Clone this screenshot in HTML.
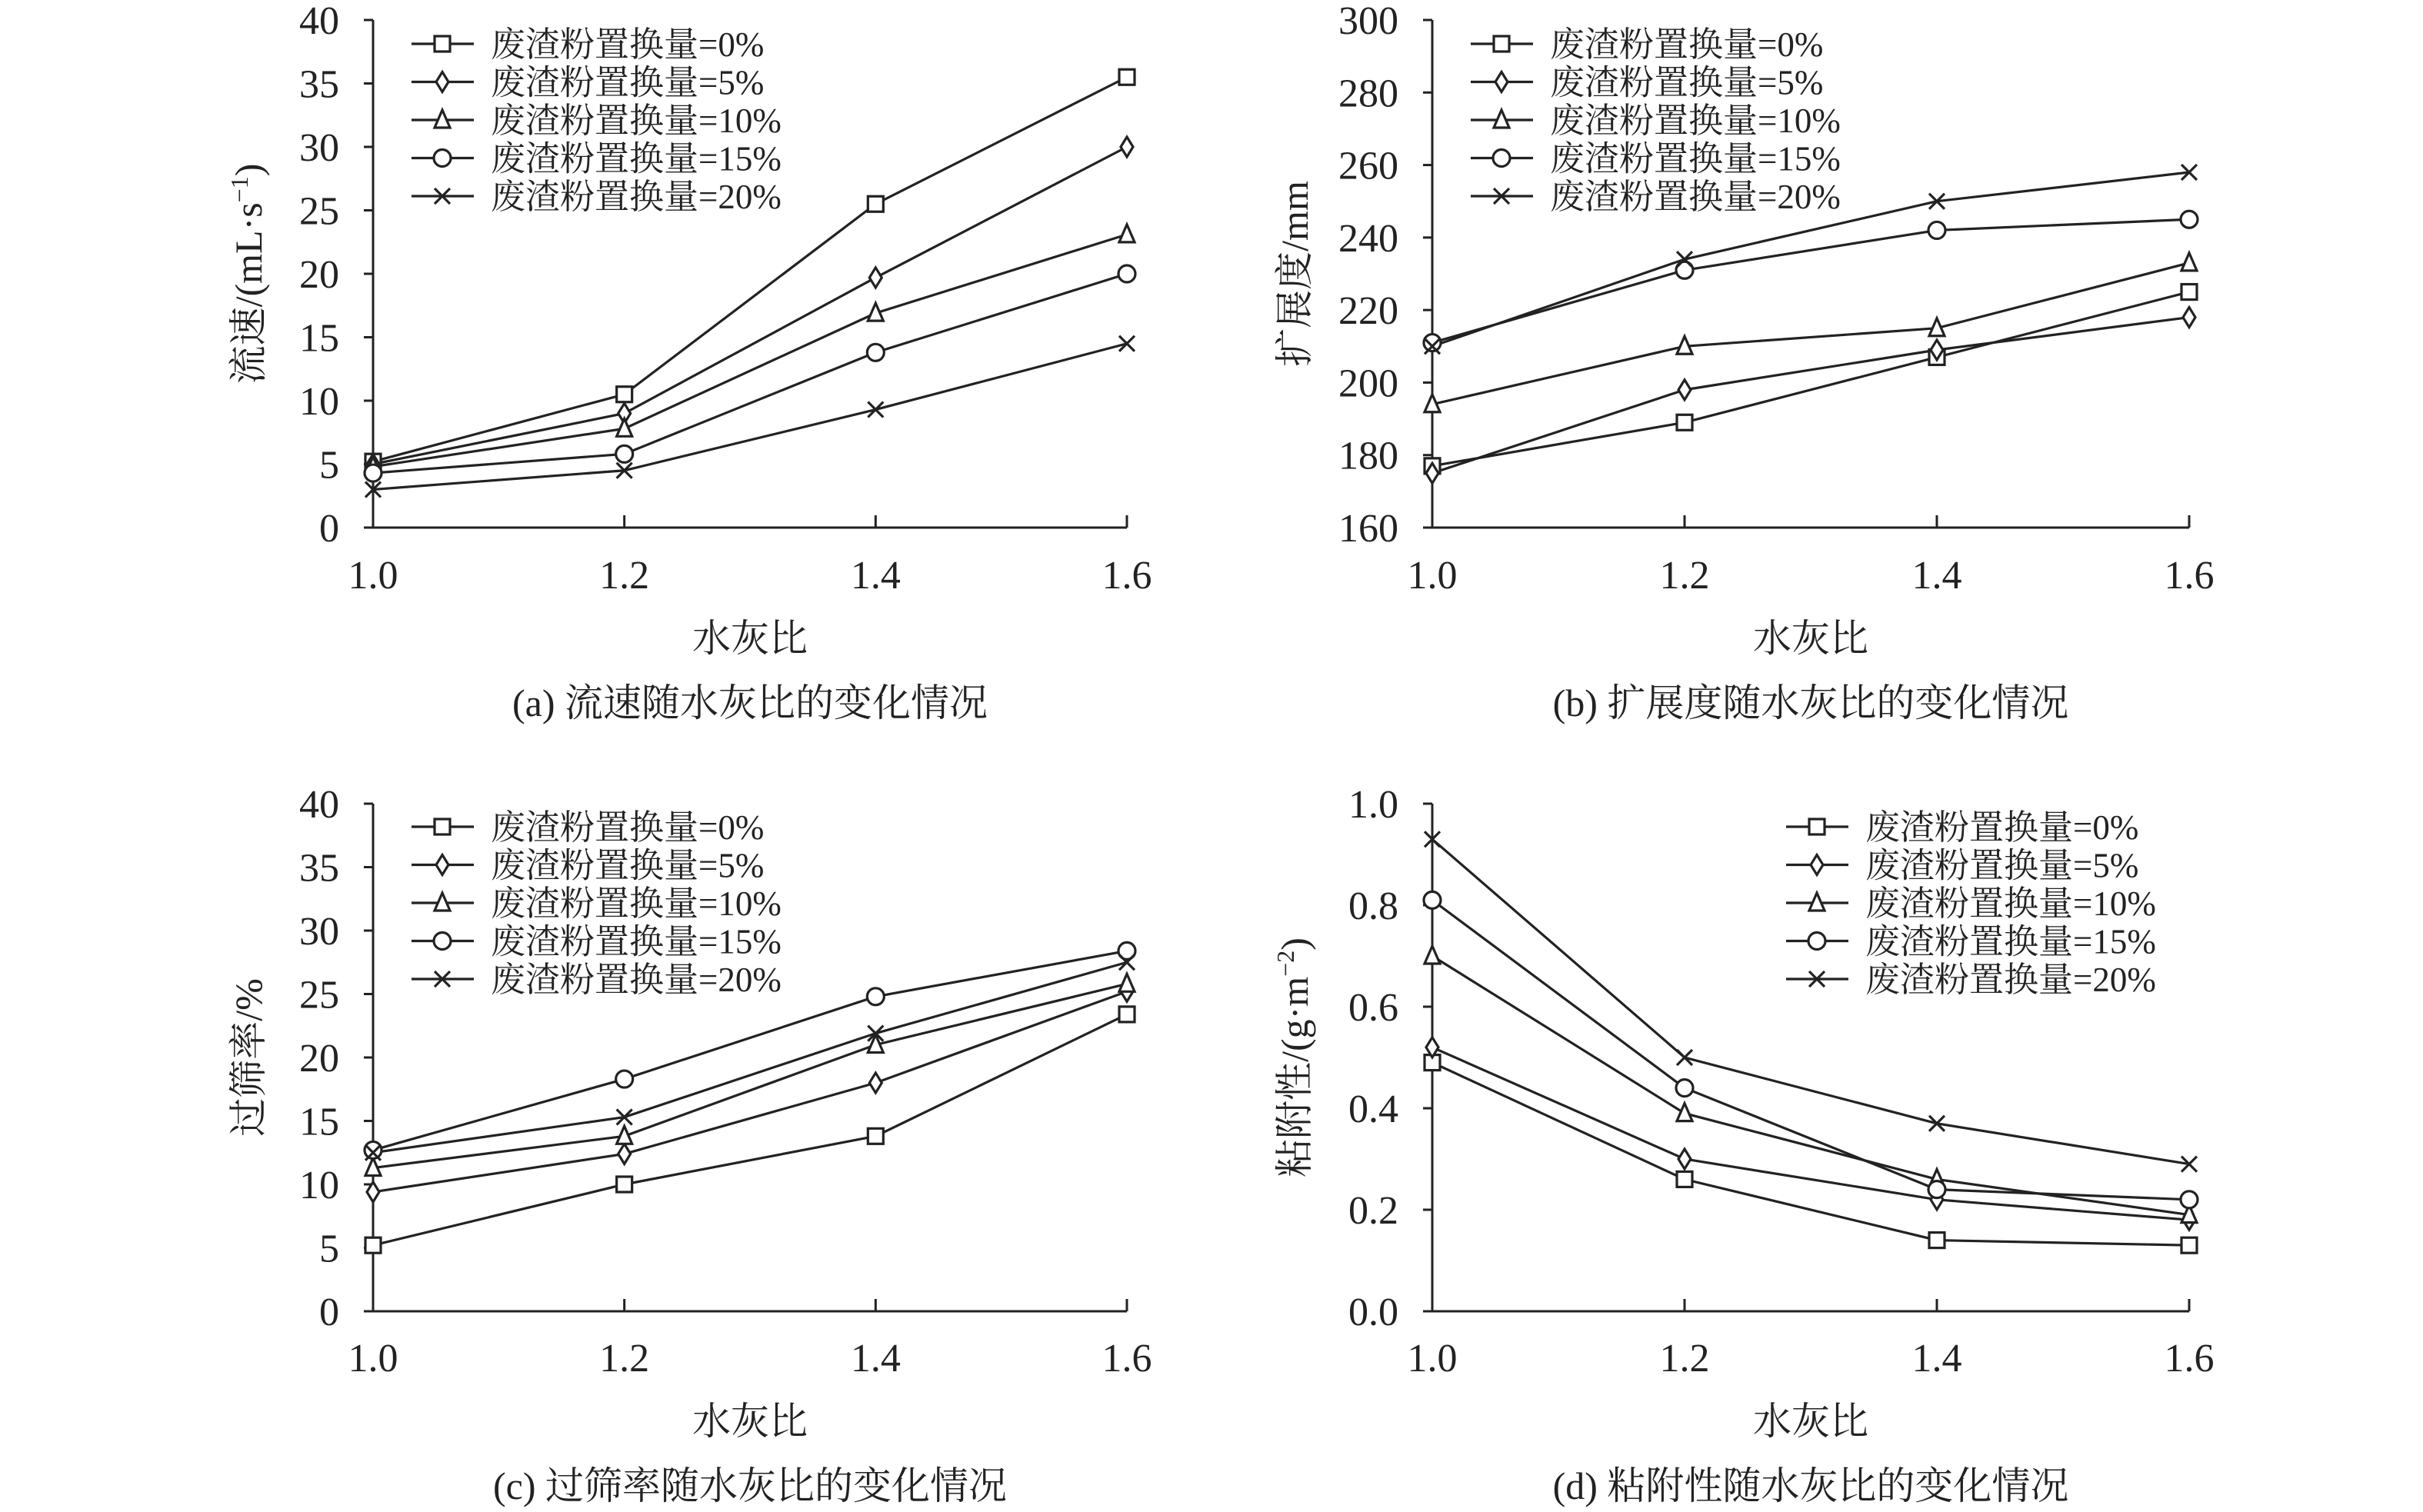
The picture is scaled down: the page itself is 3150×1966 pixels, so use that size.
<!DOCTYPE html>
<html><head><meta charset="utf-8"><style>
html,body{margin:0;padding:0;background:#fff;}
svg{display:block;font-family:"Liberation Serif","Noto Serif CJK SC",serif;}
</style></head><body>
<svg id="fig" width="3150" height="1966" viewBox="0 0 3150 1966" xmlns="http://www.w3.org/2000/svg"></svg>
<script>
const xCats = [1.0, 1.2, 1.4, 1.6];
const xTickLabels = ["1.0", "1.2", "1.4", "1.6"];
const seriesNames = ["废渣粉置换量=0%","废渣粉置换量=5%","废渣粉置换量=10%","废渣粉置换量=15%","废渣粉置换量=20%"];
const markers = ["square","diamond","triangle","circle","cross"];
// (a) flow rate
const aS0 = [5.2, 10.5, 25.5, 35.5];
const aS5 = [5.0, 9.0, 19.7, 30.0];
const aS10 = [4.8, 7.8, 16.9, 23.1];
const aS15 = [4.3, 5.8, 13.8, 20.0];
const aS20 = [3.0, 4.5, 9.3, 14.5];
const aTicks = [0,5,10,15,20,25,30,35,40];
// (b) spread
const bS0 = [177, 189, 207, 225];
const bS5 = [175, 198, 209, 218];
const bS10 = [194, 210, 215, 233];
const bS15 = [211, 231, 242, 245];
const bS20 = [210, 234, 250, 258];
const bTicks = [160,180,200,220,240,260,280,300];
// (c) sieve rate
const cS0 = [5.2, 10.0, 13.8, 23.4];
const cS5 = [9.4, 12.4, 18.0, 25.2];
const cS10 = [11.3, 13.8, 21.0, 25.8];
const cS15 = [12.7, 18.3, 24.8, 28.4];
const cS20 = [12.5, 15.3, 21.9, 27.5];
const cTicks = [0,5,10,15,20,25,30,35,40];
// (d) adhesion
const dS0 = [0.49, 0.26, 0.14, 0.13];
const dS5 = [0.52, 0.30, 0.22, 0.18];
const dS10 = [0.70, 0.39, 0.26, 0.19];
const dS15 = [0.81, 0.44, 0.24, 0.22];
const dS20 = [0.93, 0.50, 0.37, 0.29];
const dTicks = [0.0,0.2,0.4,0.6,0.8,1.0];

const NS="http://www.w3.org/2000/svg";
const svg=document.getElementById('fig');
function mk(tag,attrs,parent){const e=document.createElementNS(NS,tag);for(const k in attrs)e.setAttribute(k,attrs[k]);(parent||svg).appendChild(e);return e;}
const SW=3.2;

function marker(g,type,x,y){
  const r=10;
  let e;
  if(type==="square") e=mk('rect',{x:x-r,y:y-r,width:2*r,height:2*r,fill:'#fff',stroke:'#222','stroke-width':SW},g);
  else if(type==="diamond") e=mk('polygon',{points:`${x},${y-r-3} ${x+r-2},${y} ${x},${y+r+3} ${x-r+2},${y}`,fill:'#fff',stroke:'#222','stroke-width':SW},g);
  else if(type==="triangle") e=mk('polygon',{points:`${x},${y-r-3} ${x+r},${y+r} ${x-r},${y+r}`,fill:'#fff',stroke:'#222','stroke-width':SW},g);
  else if(type==="circle") e=mk('circle',{cx:x,cy:y,r:r+1,fill:'#fff',stroke:'#222','stroke-width':SW},g);
  else e=mk('path',{d:`M${x-r},${y-r}L${x+r},${y+r}M${x+r},${y-r}L${x-r},${y+r}`,stroke:'#222','stroke-width':SW,fill:'none'},g);
  
  
  return e;
}

function panel(cfg){
  const g=mk('g',{});
  
  
  const {x0,x1,yTop,yBot,ymin,ymax}=cfg;
  const sx=v=>x0+(v-xCats[0])/(xCats[xCats.length-1]-xCats[0])*(x1-x0);
  const sy=v=>yBot-(v-ymin)/(ymax-ymin)*(yBot-yTop);
  const ax=mk('path',{d:`M${x0},${yTop}L${x0},${yBot}L${x1},${yBot}`,stroke:'#222','stroke-width':3,fill:'none'},g);
  
  
  cfg.ticks.forEach(t=>{
    const y=sy(t);
    mk('line',{x1:x0-12,y1:y,x2:x0,y2:y,stroke:'#222','stroke-width':3},g);
    const tx=mk('text',{x:x0-44,y:y+18,'text-anchor':'end','font-size':52,fill:'#222'},g);
    tx.textContent=cfg.fmt(t);
    
    
  });
  xCats.forEach((c,i)=>{
    const x=sx(c);
    if(i>0) mk('line',{x1:x,y1:yBot,x2:x,y2:yBot-16,stroke:'#222','stroke-width':3},g);
    const tx=mk('text',{x:x,y:cfg.tickY,'text-anchor':'middle','font-size':52,fill:'#222'},g);
    tx.textContent=xTickLabels[i];
    
    
  });
  cfg.series.forEach((s,si)=>{
    const pts=s.map((v,i)=>`${sx(xCats[i])},${sy(v)}`).join(' ');
    const pl=mk('polyline',{points:pts,fill:'none',stroke:'#222','stroke-width':SW},g);
    
    
  });
  cfg.series.forEach((s,si)=>{s.forEach((v,i)=>marker(g,markers[si],sx(xCats[i]),sy(v)));});
  seriesNames.forEach((n,i)=>{
    const y=cfg.legY+i*49.5;
    mk('line',{x1:cfg.legX,y1:y,x2:cfg.legX+81,y2:y,stroke:'#222','stroke-width':SW},g);
    marker(g,markers[i],cfg.legX+40,y);
    const tx=mk('text',{x:cfg.legX+103,y:y+16,'font-size':45,fill:'#222'},g);
    tx.textContent=n;
    
    
  });
  const xt=mk('text',{x:(x0+x1)/2,y:cfg.tickY+82,'text-anchor':'middle','font-size':50,fill:'#222'},g);
  xt.textContent='水灰比';
  
  
  const cap=mk('text',{x:(x0+x1)/2,y:cfg.tickY+166,'text-anchor':'middle','font-size':50,fill:'#222'},g);
  cap.textContent=cfg.caption;
  
  
  const yc=(yTop+yBot)/2;
  const yt=mk('text',{x:0,y:0,'text-anchor':'middle','font-size':50,fill:'#222',transform:`translate(${cfg.ytX},${yc}) rotate(-90)`},g);
  yt.innerHTML=cfg.ytitle;
  
  
}

panel({id:'panel-a',x0:485,x1:1465,yTop:26,yBot:686,ymin:0,ymax:40,ticks:aTicks,fmt:t=>String(t),
  series:[aS0,aS5,aS10,aS15,aS20],legX:535,legY:57,tickY:765,caption:'(a) 流速随水灰比的变化情况',ytX:340,
  ytitle:'流速/(mL·s<tspan baseline-shift="super" font-size="32">−1</tspan>)'});
panel({id:'panel-b',x0:1862,x1:2846,yTop:26,yBot:686,ymin:160,ymax:300,ticks:bTicks,fmt:t=>String(t),
  series:[bS0,bS5,bS10,bS15,bS20],legX:1912,legY:57,tickY:765,caption:'(b) 扩展度随水灰比的变化情况',ytX:1700,
  ytitle:'扩展度/mm'});
panel({id:'panel-c',x0:485,x1:1465,yTop:1045,yBot:1705,ymin:0,ymax:40,ticks:cTicks,fmt:t=>String(t),
  series:[cS0,cS5,cS10,cS15,cS20],legX:535,legY:1075,tickY:1783,caption:'(c) 过筛率随水灰比的变化情况',ytX:340,
  ytitle:'过筛率/%'});
panel({id:'panel-d',x0:1862,x1:2846,yTop:1045,yBot:1705,ymin:0,ymax:1.0,ticks:dTicks,fmt:t=>t.toFixed(1),
  series:[dS0,dS5,dS10,dS15,dS20],legX:2322,legY:1075,tickY:1783,caption:'(d) 粘附性随水灰比的变化情况',ytX:1700,
  ytitle:'粘附性/(g·m<tspan baseline-shift="super" font-size="32">−2</tspan>)'});
</script>
</body></html>
